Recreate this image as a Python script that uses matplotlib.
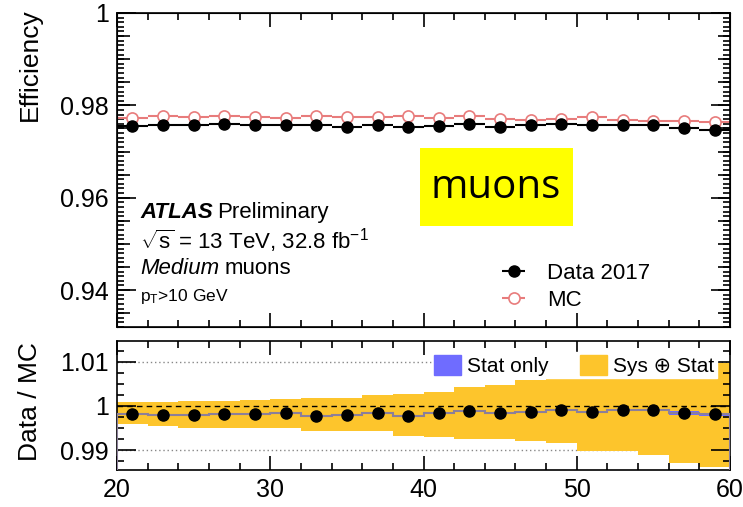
import numpy as np
import matplotlib
matplotlib.use("Agg")
import matplotlib.pyplot as plt
from matplotlib.patches import Rectangle
from matplotlib.ticker import MultipleLocator, FuncFormatter

plt.rcParams['font.family'] = ['Liberation Sans', 'DejaVu Sans']
plt.rcParams['mathtext.fontset'] = 'custom'
plt.rcParams['mathtext.rm'] = 'Liberation Sans'
plt.rcParams['mathtext.it'] = 'Liberation Sans:italic'

# pT bins (GeV)
bin_edges = np.arange(20, 62, 2)
pt = [21, 23, 25, 27, 29, 31, 33, 35, 37, 39, 41, 43, 45, 47, 49, 51, 53, 55, 57, 59]

eff_data = [0.9755, 0.9758, 0.9758, 0.9760, 0.9758, 0.9758, 0.9758, 0.9754, 0.9758, 0.9754,
            0.9755, 0.9760, 0.9753, 0.9757, 0.9759, 0.9757, 0.9758, 0.9757, 0.9751, 0.9747]
eff_mc = [0.9773, 0.9776, 0.9775, 0.9777, 0.9775, 0.9773, 0.9778, 0.9775, 0.9775, 0.9776,
          0.9773, 0.9776, 0.9771, 0.9769, 0.9770, 0.9774, 0.9769, 0.9767, 0.9767, 0.9765]

ratio = [0.9981, 0.9980, 0.9980, 0.9981, 0.9981, 0.9984, 0.9978, 0.9980, 0.9983, 0.9977,
         0.9984, 0.9988, 0.9984, 0.9987, 0.9991, 0.9987, 0.9990, 0.9990, 0.9984, 0.9981]
stat_err = [0.0001, 0.0001, 0.0001, 0.0001, 0.0001, 0.0001, 0.0001, 0.0001, 0.0001, 0.0001,
            0.0001, 0.0001, 0.0001, 0.0002, 0.0002, 0.0002, 0.0002, 0.0002, 0.0004, 0.0004]
band_up = [1.0010, 1.0010, 1.0011, 1.0011, 1.0014, 1.0015, 1.0018, 1.0019, 1.0024, 1.0028,
           1.0032, 1.0043, 1.0047, 1.0058, 1.0072, 1.0084, 1.0098, 1.0098, 1.0098, 1.0098]
band_lo = [0.9959, 0.9954, 0.9950, 0.9951, 0.9951, 0.9950, 0.9944, 0.9944, 0.9944, 0.9931,
           0.9929, 0.9925, 0.9925, 0.9920, 0.9916, 0.9899, 0.9897, 0.9890, 0.9870, 0.9862]

W, H = 743, 507
fig = plt.figure(figsize=(W / 100, H / 100), dpi=100)

def fx(px):
    return px / W

def fy(py):
    return 1 - py / H

ax1 = fig.add_axes([fx(117), fy(327), fx(730) - fx(117), fy(13) - fy(327)])
ax2 = fig.add_axes([fx(117), fy(470), fx(730) - fx(117), fy(341) - fy(470)])

red = '#e87c7c'
yellow = '#fdc52c'
blue = '#6f6cff'

# top panel
h_data = ax1.errorbar(pt, eff_data, xerr=1, fmt='o', color='black', ms=8, lw=1.5,
                      capsize=0, zorder=3)
h_mc = ax1.errorbar(pt, eff_mc, xerr=1, fmt='o', color=red, mfc='white', mec=red,
                    mew=1.2, ms=8, lw=1.5, capsize=0, zorder=2)
ax1.set_xlim(20, 60)
ax1.set_ylim(0.932, 1.0)
ax1.yaxis.set_major_locator(MultipleLocator(0.02))
ax1.yaxis.set_minor_locator(MultipleLocator(0.001))
ax1.xaxis.set_major_locator(MultipleLocator(10))
ax1.xaxis.set_minor_locator(MultipleLocator(2))
ax1.set_xticklabels([])
ax1.yaxis.set_major_formatter(FuncFormatter(lambda v, p: '%g' % round(v, 3)))

# medium-length ticks every 0.005 (ROOT style)
ax1m = ax1.twinx()
ax1m.set_ylim(ax1.get_ylim())
ax1m.yaxis.set_major_locator(MultipleLocator(0.005))
ax1m.tick_params(axis='y', which='major', direction='in', left=True, right=True,
                 labelleft=False, labelright=False, length=9, width=1.2)
ax1m.set_yticks([], minor=True)

leg = ax1.legend([h_data, h_mc], ['Data 2017', 'MC'], frameon=False, fontsize=16,
                 loc='upper left', bbox_to_anchor=(fx(478), fy(252)),
                 bbox_transform=fig.transFigure, handlelength=2.2, handletextpad=0.4,
                 labelspacing=0.25, borderpad=0)

fig.text(fx(140), fy(213), 'ATLAS', fontsize=16, fontweight='bold', style='italic',
         va='center')
fig.text(fx(217), fy(213), 'Preliminary', fontsize=16, va='center')
fig.text(fx(140), fy(241), r'$\sqrt{\mathrm{s}}$ = 13 TeV, 32.8 fb$^{-1}$', fontsize=16,
         va='center')
fig.text(fx(140), fy(268), 'Medium', fontsize=16, style='italic', va='center')
fig.text(fx(225), fy(268), 'muons', fontsize=16, va='center')
fig.text(fx(140), fy(297), r'p$_\mathrm{T}$>10 GeV', fontsize=12.5, va='center')

# bottom panel
ax2.stairs(band_up, bin_edges, baseline=band_lo, fill=True, color=yellow, lw=0, zorder=1)
stat_hi = [r + e for r, e in zip(ratio, stat_err)]
stat_lo = [r - e for r, e in zip(ratio, stat_err)]
ax2.stairs(stat_hi, bin_edges, baseline=stat_lo, fill=True, color=blue, lw=0, zorder=2)
ax2.stairs(ratio, bin_edges, color='#8c7f9a', lw=1.5, zorder=3)
for yv in (0.99, 1.01):
    ax2.axhline(yv, color='#888888', ls=(0, (1, 2)), lw=1, zorder=0.5)
ax2.axhline(1.0, color='black', ls=(0, (4, 3)), lw=1, zorder=2.5)
ax2.plot(pt, ratio, 'o', color='black', ms=8, zorder=4)
ax2.set_xlim(20, 60)
ax2.set_ylim(0.9855, 1.0147)
ax2.yaxis.set_major_locator(MultipleLocator(0.01))
ax2.yaxis.set_minor_locator(MultipleLocator(0.0025))
ax2.xaxis.set_major_locator(MultipleLocator(10))
ax2.xaxis.set_minor_locator(MultipleLocator(2))
ax2.yaxis.set_major_formatter(FuncFormatter(lambda v, p: '%g' % round(v, 3)))

stat_patch = Rectangle((0, 0), 1, 1, color=blue)
sys_patch = Rectangle((0, 0), 1, 1, color=yellow)
leg2 = ax2.legend([stat_patch, sys_patch], ['Stat only', 'Sys \u2295 Stat'], ncol=2,
                  fontsize=15, loc='upper right', bbox_to_anchor=(fx(727), fy(342)),
                  bbox_transform=fig.transFigure, frameon=True, fancybox=False,
                  edgecolor='white', facecolor='white', framealpha=1,
                  handlelength=1.3, handleheight=1.1, handletextpad=0.3,
                  columnspacing=1.5, borderpad=0.1)
leg2.set_zorder(5)

for ax in (ax1, ax2):
    ax.tick_params(which='both', direction='in', top=True, right=True, labelsize=18,
                   width=1.2)
    ax.tick_params(axis='y', which='major', length=14, pad=6)
    ax.tick_params(axis='y', which='minor', length=5)
    ax.tick_params(axis='x', which='major', length=10)
    ax.tick_params(axis='x', which='minor', length=5)
    for s in ax.spines.values():
        s.set_linewidth(1.2)
ax2.tick_params(axis='x', pad=6)

fig.text(fx(30), fy(8), 'Efficiency', rotation=90, fontsize=19, ha='center', va='top')
fig.text(fx(30), fy(402), 'Data / MC', rotation=90, fontsize=19, ha='center', va='center')

# yellow overlay box
fig.patches.append(Rectangle((fx(420), fy(226)), fx(573) - fx(420), fy(148) - fy(226),
                             transform=fig.transFigure, facecolor='#ffff00',
                             edgecolor='none', zorder=10))
fig.text(fx(496), fy(188), 'muons', fontsize=29, ha='center', va='center', zorder=11,
         family=['Open Sans', 'DejaVu Sans'])

fig.savefig('out.png', dpi=100)
